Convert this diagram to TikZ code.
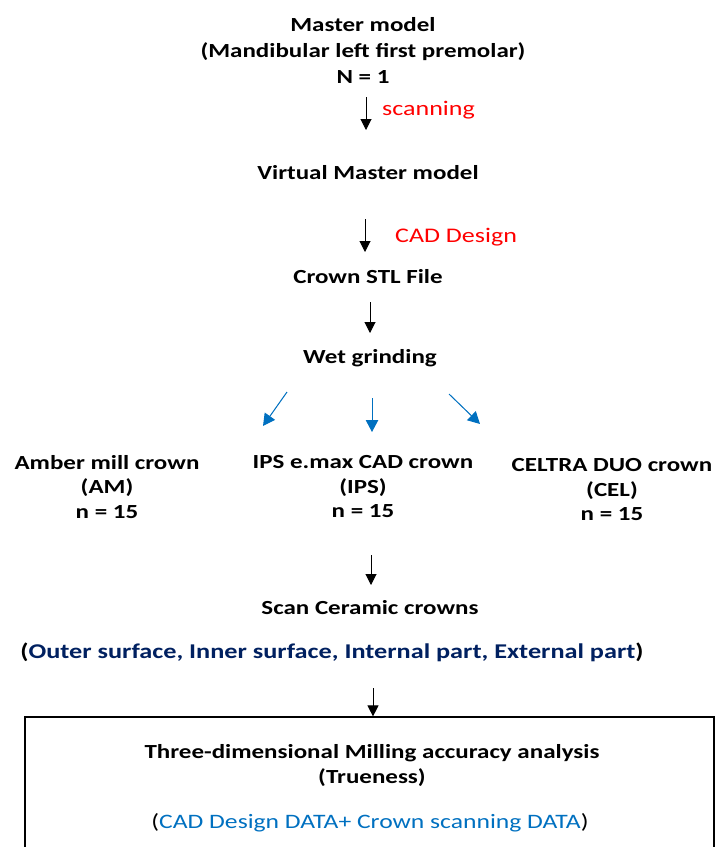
\documentclass[tikz,border=0pt]{standalone}
\usepackage{fontspec}
\setmainfont{Carlito}[FakeStretch=1.25]
\usetikzlibrary{arrows.meta}
\definecolor{cred}{RGB}{255,0,0}
\definecolor{cblue}{RGB}{0,112,192}
\definecolor{cnavy}{RGB}{0,32,96}
\begin{document}
\begin{tikzpicture}[x=1pt,y=-1pt,
  every node/.style={inner sep=0pt, align=center},
  bt/.style={font=\bfseries\fontsize{20}{26}\selectfont},
  gt/.style={font=\bfseries\fontsize{20}{24.5}\selectfont},
  rt/.style={font=\fontsize{20.8}{25}\selectfont},
  blk/.style={-{Triangle[width=11pt,length=11pt]}, line width=1pt},
  blu/.style={-{Triangle[width=12.5pt,length=12pt]}, line width=1pt, draw=cblue, fill=cblue}]
\useasboundingbox (0,0) rectangle (715,847);
\node[bt] (master) at (363,50) {Master model\\(Mandibular left first premolar)\\N = 1};
\node[rt, text=cred, anchor=west] (scanlbl) at (382,110) {scanning};
\node[bt] (virtual) at (368,173) {Virtual Master model};
\node[rt, text=cred, anchor=west] (cadlbl) at (395,237) {CAD Design};
\node[bt] (stl) at (368,277) {Crown STL File};
\node[bt] (wet) at (370,358) {Wet grinding};
\node[gt] (am) at (107,487) {Amber mill crown\\(AM)\\n = 15};
\node[gt] (ips) at (363,487) {IPS e.max CAD crown\\(IPS)\\n = 15};
\node[gt] (cel) at (612,490) {CELTRA DUO crown\\(CEL)\\n = 15};
\node[bt] (scancer) at (370,608) {Scan Ceramic crowns};
\node[bt, font=\bfseries\fontsize{21}{26}\selectfont] (parts) at (332,652) {(\textcolor{cnavy}{Outer surface, Inner surface, Internal part, External part})};
\node[draw, line width=1.2pt, minimum width=689pt, minimum height=220pt] (box) at (369.5,827) {};
\node[bt, font=\bfseries\fontsize{20}{25}\selectfont] (three) at (372,765) {Three-dimensional Milling accuracy analysis\\(Trueness)};
\node[font=\fontsize{20.5}{25}\selectfont] (data) at (370,823) {(\textcolor{cblue}{CAD Design DATA+ Crown scanning DATA})};
% arrows
\draw[blk] ([shift={(3,47)}]master.center) -- ([shift={(-2,-43)}]virtual.center);
\draw[blk] ([shift={(-3,46)}]virtual.center) -- ([shift={(-3,-25)}]stl.center);
\draw[blk] ([shift={(2,25)}]stl.center) -- ([shift={(0,-25)}]wet.center);
\draw[blu] ([shift={(-83,34)}]wet.center) -- ([shift={(156,-61)}]am.center);
\draw[blu] ([shift={(2,40)}]wet.center) -- ([shift={(9,-55)}]ips.center);
\draw[blu] ([shift={(79,36)}]wet.center) -- ([shift={(-132,-66)}]cel.center);
\draw[blk] ([shift={(8,68)}]ips.center) -- ([shift={(1,-23)}]scancer.center);
\draw[blk] ([shift={(41,36)}]parts.center) -- ([xshift=3.5pt]box.north);
\end{tikzpicture}
\end{document}
